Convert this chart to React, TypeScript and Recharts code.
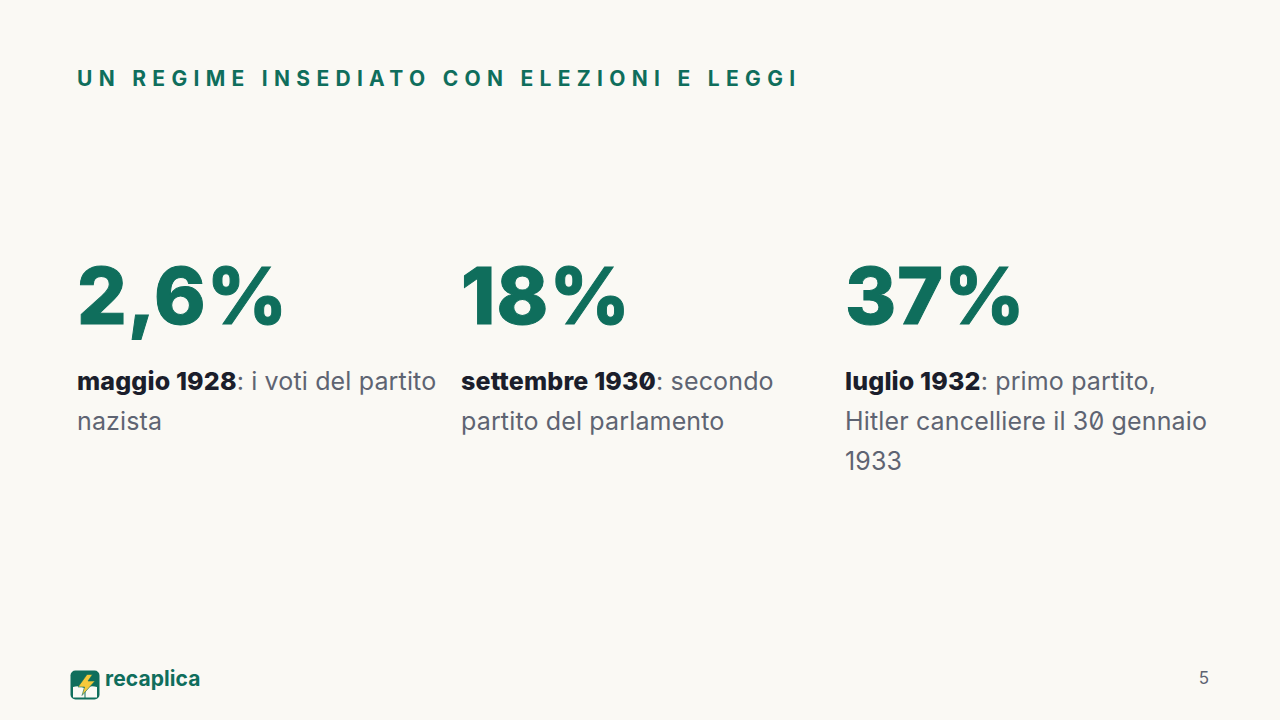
import { BarChart, Bar, XAxis, YAxis, LabelList } from 'recharts'

const title = 'UN REGIME INSEDIATO CON ELEZIONI E LEGGI'
const brand = 'recaplica'
const pageNumber = '5'

const shares = [2.6, 18, 37]
const shareLabels = ['2,6%', '18%', '37%']
const periods = ['maggio 1928', 'settembre 1930', 'luglio 1932']
const firstLines = [': i voti del partito', ': secondo', ': primo partito,']
const otherLines = [['nazista'], ['partito del parlamento'], ['Hitler cancelliere il 30 gennaio', '1933']]

const GREEN = '#0F6E5C'
const DARK = '#1B1E2B'
const GREY = '#5E6472'
const BG = '#FAF9F4'

const data = shares.map((share, i) => ({ period: periods[i], share }))

const bodyStyle = { fontFeatureSettings: '"zero"' }

const StatLabel = (props: any) => {
    const { x, index } = props
    return (
        <g>
            <text x={x} y={324} fontFamily="Inter" fontWeight={800} fontSize={78} letterSpacing={1.1} fill={GREEN} stroke={GREEN} strokeWidth={1}>
                {shareLabels[index]}
            </text>
            <text x={x} y={390} fontFamily="Inter" fontSize={25} letterSpacing={0.15} fill={GREY} style={bodyStyle}>
                <tspan fontWeight={800} fill={DARK}>{periods[index]}</tspan>
                <tspan>{firstLines[index]}</tspan>
            </text>
            {otherLines[index].map((line, i) => (
                <text key={line} x={x} y={430 + i * 39.5} fontFamily="Inter" fontSize={25} letterSpacing={0.15} fill={GREY} style={bodyStyle}>
                    {line}
                </text>
            ))}
        </g>
    )
}

export default function App() {
    return (
        <div style={{ position: 'fixed', left: 0, top: 0, width: 1280, height: 720, background: BG }}>
            <BarChart
                width={1280}
                height={720}
                data={data}
                margin={{ top: 0, right: 51, bottom: 0, left: 77 }}
                barCategoryGap={0}
            >
                <XAxis dataKey="period" hide />
                <YAxis hide domain={[0, 40]} />
                <Bar dataKey="share" fill="none" isAnimationActive={false}>
                    <LabelList dataKey="share" content={StatLabel} />
                </Bar>
                <text x={77} y={85.5} fontFamily="Inter" fontWeight={700} fontSize={21} letterSpacing={6.3} fill={GREEN}>
                    {title}
                </text>
                <g>
                    <rect x={70.5} y={670.5} width={29} height={29} rx={5} fill={GREEN} />
                    <path d="M73 687 Q79 685 84.5 688 L84.5 697.5 L73 697.5 Z M85.5 688 Q91 685 97 687 L97 697.5 L85.5 697.5 Z" fill="#FAF9F4" />
                    <path d="M87 674.5 L78 687 L84.5 687 L82 695.5 L95 681 L88 681 L92.5 674.5 Z" fill="#F5C93A" stroke={GREEN} strokeWidth={0.6} />
                </g>
                <text x={105} y={686} fontFamily="Inter" fontWeight={700} fontSize={21} letterSpacing={0.1} fill={GREEN}>
                    {brand}
                </text>
                <text x={1209} y={684} textAnchor="end" fontFamily="Inter" fontSize={17} fill={GREY}>
                    {pageNumber}
                </text>
            </BarChart>
        </div>
    )
}
